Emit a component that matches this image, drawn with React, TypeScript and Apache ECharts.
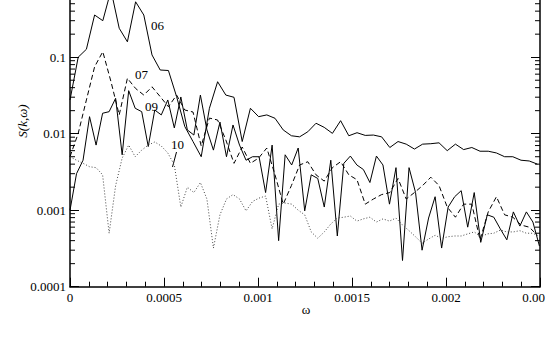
import React, { useEffect, useRef } from "react";
import * as echarts from "echarts";

// omega spacing (rad/s) of the two sampling grids
const omegaStepA = 4.362e-5; // curves 06 and 07
const omegaStepB = 3.468e-5; // curves 09 and 10

const s06 = [0.0276, 0.1, 0.127, 0.356, 0.3, 0.75, 0.239, 0.159, 0.53, 0.356, 0.107, 0.068, 0.067, 0.0305, 0.0124, 0.0079, 0.005, 0.0215, 0.0478, 0.032, 0.0299, 0.0079, 0.0215, 0.0167, 0.0176, 0.0159, 0.0112, 0.0094, 0.0091, 0.0106, 0.0137, 0.0121, 0.0101, 0.0148, 0.0094, 0.0103, 0.0095, 0.0096, 0.0091, 0.0066, 0.0079, 0.0073, 0.0063, 0.0073, 0.0074, 0.0076, 0.006, 0.0073, 0.0062, 0.0066, 0.0059, 0.0059, 0.0056, 0.005, 0.005, 0.0045, 0.0044, 0.004];

const s07 = [0.005, 0.0101, 0.0276, 0.075, 0.118, 0.0478, 0.0176, 0.053, 0.039, 0.032, 0.041, 0.0305, 0.0225, 0.032, 0.0204, 0.0192, 0.0069, 0.016, 0.0151, 0.0083, 0.0041, 0.0067, 0.0041, 0.0048, 0.0065, 0.0029, 0.0012, 0.0021, 0.0039, 0.0043, 0.0029, 0.0024, 0.0036, 0.0043, 0.0029, 0.0025, 0.0012, 0.0014, 0.0016, 0.0017, 0.0026, 0.0014, 0.0017, 0.0021, 0.0027, 0.0021, 0.0011, 0.00081, 0.0012, 0.0012, 0.00041, 0.00095, 0.0015, 0.00087, 0.00081, 0.00064, 0.0006, 0.00047];

const s09 = [0.001, 0.003, 0.0045, 0.0167, 0.0071, 0.0185, 0.0194, 0.029, 0.0053, 0.0365, 0.0215, 0.0194, 0.0068, 0.0204, 0.0176, 0.0276, 0.0119, 0.0302, 0.0112, 0.0096, 0.032, 0.0112, 0.0061, 0.0142, 0.005, 0.013, 0.0071, 0.0045, 0.005, 0.005, 0.0017, 0.0071, 0.0004, 0.0053, 0.0039, 0.0065, 0.00098, 0.0029, 0.0026, 0.0011, 0.0045, 0.00046, 0.0041, 0.0051, 0.0039, 0.0034, 0.0023, 0.0051, 0.0039, 0.0012, 0.0036, 0.00022, 0.0036, 0.0017, 0.0003, 0.00079, 0.0015, 0.00032, 0.0011, 0.0015, 0.0018, 0.0006, 0.0017, 0.00038, 0.00087, 0.00081, 0.00057, 0.00041, 0.00095, 0.00062, 0.00095, 0.0007, 0.00034];

const s10 = [0.005, 0.0045, 0.0041, 0.0037, 0.0036, 0.0029, 0.0005, 0.0021, 0.0048, 0.0071, 0.005, 0.0061, 0.0071, 0.0078, 0.0069, 0.0056, 0.0039, 0.0011, 0.002, 0.0017, 0.0023, 0.0014, 0.00032, 0.00087, 0.0014, 0.0016, 0.0014, 0.00098, 0.0013, 0.00144, 0.00153, 0.00057, 0.0012, 0.00124, 0.0012, 0.001, 0.00087, 0.00052, 0.00043, 0.00052, 0.00066, 0.00079, 0.00081, 0.00084, 0.00072, 0.00077, 0.00081, 0.0007, 0.00077, 0.00072, 0.00079, 0.00064, 0.00054, 0.00045, 0.00037, 0.00042, 0.00047, 0.00043, 0.00045, 0.00046, 0.00046, 0.00049, 0.00052, 0.00045, 0.00049, 0.0005, 0.00055, 0.00052, 0.00052, 0.00054, 0.0005, 0.0005, 0.00045];

const xTickLabels = ["0", "0.0005", "0.001", "0.0015", "0.002", "0.0025"];
// the top decade mark (1) lies above the visible page and is not labelled
const yTickLabels = ["0.0001", "0.001", "0.01", "0.1"];
const curveNames = ["06", "07", "09", "10"];

const FONT = "Liberation Serif";
// the chart's top decade (up to 1) lies above the visible page
const SHIFT = 20;

const withOmega = (vals: number[], step: number) => vals.map((v, i) => [i * step, v]);

const logMinorTicks: number[] = [];
[1e-4, 1e-3, 1e-2, 1e-1].forEach((d) => {
  for (let m = 2; m <= 9; m++) logMinorTicks.push(m * d);
});

export default function App() {
  const ref = useRef<HTMLDivElement>(null);
  useEffect(() => {
    if (!ref.current) return;
    const chart = echarts.init(ref.current, undefined, { renderer: "svg" });
    const lineBase = (name: string, data: number[][], type: any, color = "#000") => ({
      name,
      type: "line",
      data,
      symbol: "none",
      clip: true,
      lineStyle: { color, width: 1, type },
      z: 3,
    });
    const axisCommon = {
      axisLine: { show: true, onZero: false, lineStyle: { color: "#000", width: 1.5 } },
      splitLine: { show: false },
    };
    const tick = { show: true, inside: true, length: 9, lineStyle: { color: "#000", width: 1 } };
    chart.setOption({
      animation: false,
      backgroundColor: "#fff",
      grid: {
        left: 70,
        right: 5,
        top: -19.3 + SHIFT,
        bottom: 71.3,
        containLabel: false,
        outerBoundsMode: "none",
      },
      xAxis: [
        {
          type: "value",
          min: 0,
          max: 0.0025,
          interval: 0.0005,
          position: "bottom",
          ...axisCommon,
          axisTick: tick,
          minorTick: { show: true, splitNumber: 5, length: 5, lineStyle: { color: "#000", width: 1 } },
          axisLabel: {
            margin: 4,
            color: "#000",
            fontFamily: FONT,
            fontSize: 13,
            hideOverlap: false,
            formatter: (_v: number, i: number) => xTickLabels[i] ?? "",
          },
        },
      ],
      yAxis: [
        {
          type: "log",
          logBase: 10,
          min: 0.0001,
          max: 1,
          position: "left",
          ...axisCommon,
          axisTick: tick,
          axisLabel: {
            margin: 4,
            color: "#000",
            fontFamily: FONT,
            fontSize: 13,
            formatter: (_v: number, i: number) => yTickLabels[i] ?? "",
          },
        },
        {
          type: "log",
          logBase: 10,
          min: 0.0001,
          max: 1,
          position: "right",
          ...axisCommon,
          axisTick: tick,
          axisLabel: { show: false },
        },
      ],
      series: [
        lineBase(curveNames[0], withOmega(s06, omegaStepA), "solid"),
        lineBase(curveNames[1], withOmega(s07, omegaStepA), [5, 3]),
        lineBase(curveNames[2], withOmega(s09, omegaStepB), "solid"),
        lineBase(curveNames[3], withOmega(s10, omegaStepB), [1, 2], "#444"),
        {
          type: "custom",
          silent: true,
          clip: false,
          data: logMinorTicks.map((v) => [0, v]),
          renderItem: (_p: any, api: any) => {
            const v = api.value(1);
            const pL = api.coord([0, v]);
            const pR = api.coord([0.0025, v]);
            const st = { stroke: "#000", lineWidth: 1 };
            return {
              type: "group",
              children: [
                { type: "line", shape: { x1: pL[0], y1: pL[1], x2: pL[0] + 5, y2: pL[1] }, style: st },
                { type: "line", shape: { x1: pR[0] - 5, y1: pR[1], x2: pR[0], y2: pR[1] }, style: st },
              ],
            };
          },
        },
      ],
      graphic: [
        { type: "text", left: 151, top: 19 + SHIFT, style: { text: curveNames[0], fill: "#000", font: `13px "${FONT}"` } },
        { type: "text", left: 135, top: 68 + SHIFT, style: { text: curveNames[1], fill: "#000", font: `13px "${FONT}"` } },
        { type: "text", left: 145, top: 100 + SHIFT, style: { text: curveNames[2], fill: "#000", font: `13px "${FONT}"` } },
        { type: "text", left: 171, top: 138 + SHIFT, style: { text: curveNames[3], fill: "#000", font: `13px "${FONT}"` } },
        {
          type: "line",
          shape: { x1: 172.5, y1: 167 + SHIFT, x2: 176.5, y2: 152 + SHIFT },
          style: { stroke: "#000", lineWidth: 1 },
        },
        {
          type: "text",
          x: 306,
          y: 309 + SHIFT,
          style: { text: "ω", fill: "#000", font: `13px "${FONT}"`, align: "center", verticalAlign: "middle" },
        },
        {
          type: "text",
          x: 22,
          y: 121 + SHIFT,
          rotation: Math.PI / 2,
          style: { text: "S(k,ω)", fill: "#000", font: `italic 13px "${FONT}"`, align: "center", verticalAlign: "middle" },
        },
      ],
    });
    return () => chart.dispose();
  }, []);
  return (
    <div
      ref={ref}
      style={{ position: "fixed", left: 0, top: -SHIFT, width: 545, height: 358 + SHIFT, background: "#fff" }}
    />
  );
}
